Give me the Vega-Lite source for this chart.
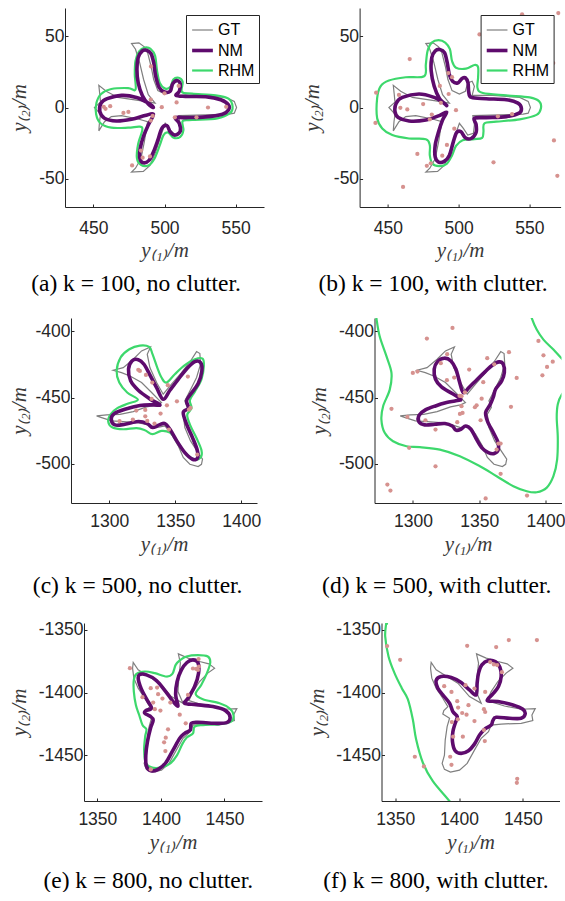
{
"$schema":"https://vega.github.io/schema/vega-lite/v6.json",
"padding":{"left":0,"top":8,"right":0,"bottom":0},
"datasets":{
"cv":[
{"g":"G1","s":"GT","i":1,"x":493.4,"y":3.1},{"g":"G1","s":"GT","i":2,"x":488.6,"y":9.0},{"g":"G1","s":"GT","i":3,"x":485.3,"y":19.7},{"g":"G1","s":"GT","i":4,"x":482.5,"y":31.5},{"g":"G1","s":"GT","i":5,"x":479.6,"y":41.0},{"g":"G1","s":"GT","i":6,"x":476.8,"y":45.0},{"g":"G1","s":"GT","i":7,"x":482.0,"y":45.5},{"g":"G1","s":"GT","i":8,"x":485.8,"y":42.7},{"g":"G1","s":"GT","i":9,"x":488.1,"y":38.6},{"g":"G1","s":"GT","i":10,"x":490.5,"y":29.2},{"g":"G1","s":"GT","i":11,"x":492.4,"y":19.7},{"g":"G1","s":"GT","i":12,"x":495.3,"y":11.9},{"g":"G1","s":"GT","i":13,"x":500.5,"y":9.5},{"g":"G1","s":"GT","i":14,"x":504.7,"y":11.4},{"g":"G1","s":"GT","i":15,"x":506.4,"y":17.3},{"g":"G1","s":"GT","i":16,"x":509.5,"y":18.5},{"g":"G1","s":"GT","i":17,"x":511.1,"y":14.9},{"g":"G1","s":"GT","i":18,"x":509.5,"y":8.5},{"g":"G1","s":"GT","i":19,"x":524.2,"y":8.5},{"g":"G1","s":"GT","i":20,"x":543.1,"y":7.1},{"g":"G1","s":"GT","i":21,"x":549.1,"y":4.3},{"g":"G1","s":"GT","i":22,"x":550.7,"y":0},{"g":"G1","s":"GT","i":23,"x":549.1,"y":-4.0},{"g":"G1","s":"GT","i":24,"x":545.5,"y":-4.7},{"g":"G1","s":"GT","i":25,"x":528.9,"y":-5.2},{"g":"G1","s":"GT","i":26,"x":510.0,"y":-5.7},{"g":"G1","s":"GT","i":27,"x":511.1,"y":-12.3},{"g":"G1","s":"GT","i":28,"x":510.4,"y":-18.2},{"g":"G1","s":"GT","i":29,"x":506.4,"y":-19.4},{"g":"G1","s":"GT","i":30,"x":503.3,"y":-14.7},{"g":"G1","s":"GT","i":31,"x":500.5,"y":-11.1},{"g":"G1","s":"GT","i":32,"x":497.6,"y":-19.4},{"g":"G1","s":"GT","i":33,"x":493.8,"y":-31.3},{"g":"G1","s":"GT","i":34,"x":489.8,"y":-40.8},{"g":"G1","s":"GT","i":35,"x":485.1,"y":-45.0},{"g":"G1","s":"GT","i":36,"x":476.8,"y":-45.5},{"g":"G1","s":"GT","i":37,"x":479.6,"y":-42.7},{"g":"G1","s":"GT","i":38,"x":483.4,"y":-36.0},{"g":"G1","s":"GT","i":39,"x":485.8,"y":-24.2},{"g":"G1","s":"GT","i":40,"x":488.1,"y":-10.0},{"g":"G1","s":"GT","i":41,"x":481.5,"y":-8.1},{"g":"G1","s":"GT","i":42,"x":469.7,"y":-5.7},{"g":"G1","s":"GT","i":43,"x":462.6,"y":-6.4},{"g":"G1","s":"GT","i":44,"x":457.8,"y":-10.0},{"g":"G1","s":"GT","i":45,"x":453.8,"y":-16.4},{"g":"G1","s":"GT","i":46,"x":454.3,"y":-10.0},{"g":"G1","s":"GT","i":47,"x":455.0,"y":-4.7},{"g":"G1","s":"GT","i":48,"x":450.7,"y":0},{"g":"G1","s":"GT","i":49,"x":455.0,"y":3.8},{"g":"G1","s":"GT","i":50,"x":454.5,"y":9.0},{"g":"G1","s":"GT","i":51,"x":453.8,"y":15.6},{"g":"G1","s":"GT","i":52,"x":459.0,"y":11.4},{"g":"G1","s":"GT","i":53,"x":467.3,"y":7.1},{"g":"G1","s":"GT","i":54,"x":483.9,"y":4.7},
{"g":"A","s":"NM","i":1,"x":492.2,"y":0},{"g":"A","s":"NM","i":2,"x":488.6,"y":2.4},{"g":"A","s":"NM","i":3,"x":484.4,"y":8.5},{"g":"A","s":"NM","i":4,"x":481.5,"y":17.3},{"g":"A","s":"NM","i":5,"x":480.6,"y":26.8},{"g":"A","s":"NM","i":6,"x":481.5,"y":35.1},{"g":"A","s":"NM","i":7,"x":484.4,"y":39.8},{"g":"A","s":"NM","i":8,"x":487.4,"y":40.3},{"g":"A","s":"NM","i":9,"x":490.5,"y":37.9},{"g":"A","s":"NM","i":10,"x":492.4,"y":31.5},{"g":"A","s":"NM","i":11,"x":493.8,"y":22.0},{"g":"A","s":"NM","i":12,"x":496.2,"y":14.2},{"g":"A","s":"NM","i":13,"x":500,"y":10.9},{"g":"A","s":"NM","i":14,"x":504.0,"y":11.4},{"g":"A","s":"NM","i":15,"x":505.7,"y":16.6},{"g":"A","s":"NM","i":16,"x":508.8,"y":19.0},{"g":"A","s":"NM","i":17,"x":511.1,"y":16.6},{"g":"A","s":"NM","i":18,"x":510.4,"y":11.4},{"g":"A","s":"NM","i":19,"x":508.1,"y":8.5},{"g":"A","s":"NM","i":20,"x":514.7,"y":7.8},{"g":"A","s":"NM","i":21,"x":528.9,"y":7.6},{"g":"A","s":"NM","i":22,"x":539.6,"y":5.5},{"g":"A","s":"NM","i":23,"x":545.0,"y":1.9},{"g":"A","s":"NM","i":24,"x":545.0,"y":-1.7},{"g":"A","s":"NM","i":25,"x":540.8,"y":-4.7},{"g":"A","s":"NM","i":26,"x":528.9,"y":-6.6},{"g":"A","s":"NM","i":27,"x":514.7,"y":-7.1},{"g":"A","s":"NM","i":28,"x":507.6,"y":-7.1},{"g":"A","s":"NM","i":29,"x":510.4,"y":-11.1},{"g":"A","s":"NM","i":30,"x":511.1,"y":-16.6},{"g":"A","s":"NM","i":31,"x":507.6,"y":-19.4},{"g":"A","s":"NM","i":32,"x":504.0,"y":-17.1},{"g":"A","s":"NM","i":33,"x":501.7,"y":-12.8},{"g":"A","s":"NM","i":34,"x":498.1,"y":-14.7},{"g":"A","s":"NM","i":35,"x":495.3,"y":-23.0},{"g":"A","s":"NM","i":36,"x":492.2,"y":-31.3},{"g":"A","s":"NM","i":37,"x":489.1,"y":-37.2},{"g":"A","s":"NM","i":38,"x":485.1,"y":-38.9},{"g":"A","s":"NM","i":39,"x":482.7,"y":-36.0},{"g":"A","s":"NM","i":40,"x":482.9,"y":-28.9},{"g":"A","s":"NM","i":41,"x":485.1,"y":-20.6},{"g":"A","s":"NM","i":42,"x":488.6,"y":-12.3},{"g":"A","s":"NM","i":43,"x":492.2,"y":-4.7},{"g":"A","s":"NM","i":44,"x":486.3,"y":-5.7},{"g":"A","s":"NM","i":45,"x":476.8,"y":-8.3},{"g":"A","s":"NM","i":46,"x":466.1,"y":-9.5},{"g":"A","s":"NM","i":47,"x":457.8,"y":-7.6},{"g":"A","s":"NM","i":48,"x":454.5,"y":-2.8},{"g":"A","s":"NM","i":49,"x":455.4,"y":3.1},{"g":"A","s":"NM","i":50,"x":459.7,"y":6.2},{"g":"A","s":"NM","i":51,"x":469.7,"y":8.5},{"g":"A","s":"NM","i":52,"x":480.3,"y":7.1},{"g":"A","s":"NM","i":53,"x":488.6,"y":3.1},
{"g":"A","s":"RHM","i":1,"x":486.3,"y":42.2},{"g":"A","s":"RHM","i":2,"x":490.5,"y":41.0},{"g":"A","s":"RHM","i":3,"x":493.4,"y":36.3},{"g":"A","s":"RHM","i":4,"x":494.8,"y":25.6},{"g":"A","s":"RHM","i":5,"x":496.7,"y":17.3},{"g":"A","s":"RHM","i":6,"x":500.5,"y":13.3},{"g":"A","s":"RHM","i":7,"x":504.3,"y":14.7},{"g":"A","s":"RHM","i":8,"x":506.2,"y":19.7},{"g":"A","s":"RHM","i":9,"x":510.0,"y":20.9},{"g":"A","s":"RHM","i":10,"x":512.8,"y":18.0},{"g":"A","s":"RHM","i":11,"x":512.3,"y":10.9},{"g":"A","s":"RHM","i":12,"x":519.4,"y":9.7},{"g":"A","s":"RHM","i":13,"x":536.0,"y":8.5},{"g":"A","s":"RHM","i":14,"x":545.0,"y":6.2},{"g":"A","s":"RHM","i":15,"x":547.9,"y":0.7},{"g":"A","s":"RHM","i":16,"x":546.0,"y":-4.0},{"g":"A","s":"RHM","i":17,"x":537.2,"y":-7.6},{"g":"A","s":"RHM","i":18,"x":519.4,"y":-8.8},{"g":"A","s":"RHM","i":19,"x":512.8,"y":-9.5},{"g":"A","s":"RHM","i":20,"x":513.3,"y":-15.9},{"g":"A","s":"RHM","i":21,"x":511.1,"y":-20.6},{"g":"A","s":"RHM","i":22,"x":506.4,"y":-21.3},{"g":"A","s":"RHM","i":23,"x":502.4,"y":-17.5},{"g":"A","s":"RHM","i":24,"x":499.3,"y":-19.4},{"g":"A","s":"RHM","i":25,"x":496.7,"y":-26.5},{"g":"A","s":"RHM","i":26,"x":492.9,"y":-36.0},{"g":"A","s":"RHM","i":27,"x":488.6,"y":-40.8},{"g":"A","s":"RHM","i":28,"x":483.4,"y":-40.3},{"g":"A","s":"RHM","i":29,"x":480.6,"y":-35.6},{"g":"A","s":"RHM","i":30,"x":481.5,"y":-25.4},{"g":"A","s":"RHM","i":31,"x":484.4,"y":-15.9},{"g":"A","s":"RHM","i":32,"x":482.7,"y":-13.5},{"g":"A","s":"RHM","i":33,"x":474.4,"y":-14.2},{"g":"A","s":"RHM","i":34,"x":462.6,"y":-14.2},{"g":"A","s":"RHM","i":35,"x":455.0,"y":-11.1},{"g":"A","s":"RHM","i":36,"x":451.9,"y":-4.7},{"g":"A","s":"RHM","i":37,"x":452.1,"y":3.1},{"g":"A","s":"RHM","i":38,"x":455.4,"y":9.5},{"g":"A","s":"RHM","i":39,"x":462.6,"y":13.0},{"g":"A","s":"RHM","i":40,"x":474.4,"y":13.7},{"g":"A","s":"RHM","i":41,"x":479.6,"y":12.6},{"g":"A","s":"RHM","i":42,"x":479.1,"y":23.2},{"g":"A","s":"RHM","i":43,"x":479.6,"y":32.7},{"g":"A","s":"RHM","i":44,"x":482.0,"y":39.3},
{"g":"B","s":"NM","i":1,"x":491.5,"y":1.4},{"g":"B","s":"NM","i":2,"x":486.3,"y":6.6},{"g":"B","s":"NM","i":3,"x":482.7,"y":14.9},{"g":"B","s":"NM","i":4,"x":480.6,"y":25.6},{"g":"B","s":"NM","i":5,"x":481.0,"y":35.1},{"g":"B","s":"NM","i":6,"x":483.4,"y":39.8},{"g":"B","s":"NM","i":7,"x":486.7,"y":40.8},{"g":"B","s":"NM","i":8,"x":490.0,"y":38.6},{"g":"B","s":"NM","i":9,"x":491.9,"y":31.5},{"g":"B","s":"NM","i":10,"x":493.4,"y":23.2},{"g":"B","s":"NM","i":11,"x":495.7,"y":18.5},{"g":"B","s":"NM","i":12,"x":499.3,"y":17.3},{"g":"B","s":"NM","i":13,"x":502.4,"y":20.4},{"g":"B","s":"NM","i":14,"x":504.7,"y":20.9},{"g":"B","s":"NM","i":15,"x":506.6,"y":17.3},{"g":"B","s":"NM","i":16,"x":507.1,"y":10.9},{"g":"B","s":"NM","i":17,"x":509.0,"y":7.1},{"g":"B","s":"NM","i":18,"x":519.4,"y":6.2},{"g":"B","s":"NM","i":19,"x":533.7,"y":5.5},{"g":"B","s":"NM","i":20,"x":541.9,"y":3.1},{"g":"B","s":"NM","i":21,"x":544.3,"y":-0.5},{"g":"B","s":"NM","i":22,"x":542.7,"y":-4.0},{"g":"B","s":"NM","i":23,"x":533.7,"y":-6.4},{"g":"B","s":"NM","i":24,"x":519.4,"y":-7.1},{"g":"B","s":"NM","i":25,"x":511.1,"y":-7.6},{"g":"B","s":"NM","i":26,"x":512.3,"y":-11.9},{"g":"B","s":"NM","i":27,"x":512.3,"y":-17.5},{"g":"B","s":"NM","i":28,"x":508.8,"y":-21.8},{"g":"B","s":"NM","i":29,"x":504.7,"y":-21.3},{"g":"B","s":"NM","i":30,"x":501.7,"y":-17.1},{"g":"B","s":"NM","i":31,"x":498.6,"y":-17.5},{"g":"B","s":"NM","i":32,"x":496.2,"y":-24.2},{"g":"B","s":"NM","i":33,"x":493.4,"y":-33.7},{"g":"B","s":"NM","i":34,"x":489.8,"y":-37.9},{"g":"B","s":"NM","i":35,"x":485.8,"y":-38.4},{"g":"B","s":"NM","i":36,"x":483.4,"y":-34.8},{"g":"B","s":"NM","i":37,"x":483.4,"y":-26.5},{"g":"B","s":"NM","i":38,"x":485.8,"y":-17.1},{"g":"B","s":"NM","i":39,"x":488.6,"y":-8.8},{"g":"B","s":"NM","i":40,"x":491.5,"y":-3.3},{"g":"B","s":"NM","i":41,"x":486.3,"y":-5.7},{"g":"B","s":"NM","i":42,"x":476.8,"y":-8.8},{"g":"B","s":"NM","i":43,"x":464.9,"y":-9.5},{"g":"B","s":"NM","i":44,"x":457.3,"y":-7.1},{"g":"B","s":"NM","i":45,"x":455.0,"y":-2.8},{"g":"B","s":"NM","i":46,"x":455.9,"y":3.1},{"g":"B","s":"NM","i":47,"x":460.2,"y":7.1},{"g":"B","s":"NM","i":48,"x":472.0,"y":9.5},{"g":"B","s":"NM","i":49,"x":482.7,"y":7.1},{"g":"B","s":"NM","i":50,"x":488.6,"y":3.8},
{"g":"B","s":"RHM","i":1,"x":485.8,"y":47.4},{"g":"B","s":"RHM","i":2,"x":490.5,"y":45.7},{"g":"B","s":"RHM","i":3,"x":493.8,"y":41.0},{"g":"B","s":"RHM","i":4,"x":495.3,"y":32.7},{"g":"B","s":"RHM","i":5,"x":498.1,"y":28.0},{"g":"B","s":"RHM","i":6,"x":505.2,"y":27.3},{"g":"B","s":"RHM","i":7,"x":511.1,"y":29.9},{"g":"B","s":"RHM","i":8,"x":513.7,"y":28.4},{"g":"B","s":"RHM","i":9,"x":513.7,"y":20.9},{"g":"B","s":"RHM","i":10,"x":513.3,"y":13.7},{"g":"B","s":"RHM","i":11,"x":517.1,"y":10.2},{"g":"B","s":"RHM","i":12,"x":533.7,"y":8.5},{"g":"B","s":"RHM","i":13,"x":550.2,"y":7.1},{"g":"B","s":"RHM","i":14,"x":556.9,"y":4.3},{"g":"B","s":"RHM","i":15,"x":558.1,"y":-0.5},{"g":"B","s":"RHM","i":16,"x":555.0,"y":-5.2},{"g":"B","s":"RHM","i":17,"x":543.1,"y":-8.3},{"g":"B","s":"RHM","i":18,"x":526.5,"y":-10.0},{"g":"B","s":"RHM","i":19,"x":518.2,"y":-11.1},{"g":"B","s":"RHM","i":20,"x":517.5,"y":-17.1},{"g":"B","s":"RHM","i":21,"x":516.6,"y":-21.3},{"g":"B","s":"RHM","i":22,"x":511.1,"y":-22.3},{"g":"B","s":"RHM","i":23,"x":502.8,"y":-23.0},{"g":"B","s":"RHM","i":24,"x":498.1,"y":-27.0},{"g":"B","s":"RHM","i":25,"x":495.3,"y":-33.7},{"g":"B","s":"RHM","i":26,"x":491.5,"y":-39.6},{"g":"B","s":"RHM","i":27,"x":486.3,"y":-41.2},{"g":"B","s":"RHM","i":28,"x":481.5,"y":-39.6},{"g":"B","s":"RHM","i":29,"x":479.6,"y":-33.7},{"g":"B","s":"RHM","i":30,"x":479.6,"y":-26.5},{"g":"B","s":"RHM","i":31,"x":476.8,"y":-22.3},{"g":"B","s":"RHM","i":32,"x":464.9,"y":-21.8},{"g":"B","s":"RHM","i":33,"x":453.1,"y":-19.4},{"g":"B","s":"RHM","i":34,"x":446.0,"y":-14.7},{"g":"B","s":"RHM","i":35,"x":442.4,"y":-7.6},{"g":"B","s":"RHM","i":36,"x":442.4,"y":6.6},{"g":"B","s":"RHM","i":37,"x":444.8,"y":14.9},{"g":"B","s":"RHM","i":38,"x":450.7,"y":19.0},{"g":"B","s":"RHM","i":39,"x":462.6,"y":21.3},{"g":"B","s":"RHM","i":40,"x":475.6,"y":22.0},{"g":"B","s":"RHM","i":41,"x":476.8,"y":30.3},{"g":"B","s":"RHM","i":42,"x":478.0,"y":39.8},{"g":"B","s":"RHM","i":43,"x":481.0,"y":45.7},
{"g":"G5","s":"GT","i":1,"x":1339.6,"y":-453.8},{"g":"G5","s":"GT","i":2,"x":1332.1,"y":-446.2},{"g":"G5","s":"GT","i":3,"x":1324.5,"y":-438.7},{"g":"G5","s":"GT","i":4,"x":1315.7,"y":-433.7},{"g":"G5","s":"GT","i":5,"x":1309.3,"y":-431.2},{"g":"G5","s":"GT","i":6,"x":1303.0,"y":-429.4},{"g":"G5","s":"GT","i":7,"x":1310.6,"y":-427.4},{"g":"G5","s":"GT","i":8,"x":1318.2,"y":-421.1},{"g":"G5","s":"GT","i":9,"x":1324.5,"y":-414.8},{"g":"G5","s":"GT","i":10,"x":1331.3,"y":-411.8},{"g":"G5","s":"GT","i":11,"x":1328.8,"y":-417.3},{"g":"G5","s":"GT","i":12,"x":1330.8,"y":-427.4},{"g":"G5","s":"GT","i":13,"x":1335.9,"y":-438.7},{"g":"G5","s":"GT","i":14,"x":1340.9,"y":-447.5},{"g":"G5","s":"GT","i":15,"x":1347.2,"y":-439.9},{"g":"G5","s":"GT","i":16,"x":1354.8,"y":-431.2},{"g":"G5","s":"GT","i":17,"x":1361.6,"y":-422.4},{"g":"G5","s":"GT","i":18,"x":1366.2,"y":-415.3},{"g":"G5","s":"GT","i":19,"x":1368.7,"y":-416.8},{"g":"G5","s":"GT","i":20,"x":1369.2,"y":-424.9},{"g":"G5","s":"GT","i":21,"x":1366.2,"y":-434.9},{"g":"G5","s":"GT","i":22,"x":1361.1,"y":-445.0},{"g":"G5","s":"GT","i":23,"x":1357.3,"y":-452.5},{"g":"G5","s":"GT","i":24,"x":1359.1,"y":-457.5},{"g":"G5","s":"GT","i":25,"x":1356.1,"y":-462.6},{"g":"G5","s":"GT","i":26,"x":1357.3,"y":-472.6},{"g":"G5","s":"GT","i":27,"x":1361.6,"y":-482.7},{"g":"G5","s":"GT","i":28,"x":1367.4,"y":-491.5},{"g":"G5","s":"GT","i":29,"x":1370.7,"y":-496.5},{"g":"G5","s":"GT","i":30,"x":1369.9,"y":-500.3},{"g":"G5","s":"GT","i":31,"x":1367.4,"y":-502.0},{"g":"G5","s":"GT","i":32,"x":1361.1,"y":-500.3},{"g":"G5","s":"GT","i":33,"x":1356.1,"y":-495.2},{"g":"G5","s":"GT","i":34,"x":1352.3,"y":-486.4},{"g":"G5","s":"GT","i":35,"x":1347.2,"y":-477.6},{"g":"G5","s":"GT","i":36,"x":1342.2,"y":-471.4},{"g":"G5","s":"GT","i":37,"x":1335.9,"y":-472.6},{"g":"G5","s":"GT","i":38,"x":1329.5,"y":-470.6},{"g":"G5","s":"GT","i":39,"x":1320.7,"y":-468.8},{"g":"G5","s":"GT","i":40,"x":1310.6,"y":-468.1},{"g":"G5","s":"GT","i":41,"x":1301.8,"y":-467.6},{"g":"G5","s":"GT","i":42,"x":1294.2,"y":-465.1},{"g":"G5","s":"GT","i":43,"x":1290.4,"y":-463.8},{"g":"G5","s":"GT","i":44,"x":1298.0,"y":-463.1},{"g":"G5","s":"GT","i":45,"x":1308.1,"y":-462.6},{"g":"G5","s":"GT","i":46,"x":1318.2,"y":-460.6},{"g":"G5","s":"GT","i":47,"x":1328.3,"y":-457.0},{"g":"G5","s":"GT","i":48,"x":1335.9,"y":-455.5},
{"g":"C","s":"NM","i":1,"x":1338.4,"y":-455.5},{"g":"C","s":"NM","i":2,"x":1330.8,"y":-451.0},{"g":"C","s":"NM","i":3,"x":1322.0,"y":-444.5},{"g":"C","s":"NM","i":4,"x":1316.2,"y":-437.4},{"g":"C","s":"NM","i":5,"x":1314.6,"y":-428.6},{"g":"C","s":"NM","i":6,"x":1317.2,"y":-422.4},{"g":"C","s":"NM","i":7,"x":1322.0,"y":-421.4},{"g":"C","s":"NM","i":8,"x":1326.3,"y":-424.9},{"g":"C","s":"NM","i":9,"x":1330.8,"y":-432.9},{"g":"C","s":"NM","i":10,"x":1335.9,"y":-442.5},{"g":"C","s":"NM","i":11,"x":1340.9,"y":-451.3},{"g":"C","s":"NM","i":12,"x":1346.0,"y":-444.5},{"g":"C","s":"NM","i":13,"x":1352.3,"y":-436.2},{"g":"C","s":"NM","i":14,"x":1359.1,"y":-427.9},{"g":"C","s":"NM","i":15,"x":1364.9,"y":-422.9},{"g":"C","s":"NM","i":16,"x":1369.2,"y":-423.6},{"g":"C","s":"NM","i":17,"x":1370.2,"y":-429.9},{"g":"C","s":"NM","i":18,"x":1367.4,"y":-439.4},{"g":"C","s":"NM","i":19,"x":1361.6,"y":-447.5},{"g":"C","s":"NM","i":20,"x":1358.6,"y":-452.5},{"g":"C","s":"NM","i":21,"x":1360.1,"y":-458.0},{"g":"C","s":"NM","i":22,"x":1356.1,"y":-461.3},{"g":"C","s":"NM","i":23,"x":1358.6,"y":-470.1},{"g":"C","s":"NM","i":24,"x":1363.1,"y":-480.2},{"g":"C","s":"NM","i":25,"x":1366.7,"y":-489.7},{"g":"C","s":"NM","i":26,"x":1366.9,"y":-495.7},{"g":"C","s":"NM","i":27,"x":1363.1,"y":-496.5},{"g":"C","s":"NM","i":28,"x":1357.3,"y":-491.5},{"g":"C","s":"NM","i":29,"x":1351.5,"y":-483.2},{"g":"C","s":"NM","i":30,"x":1346.0,"y":-473.9},{"g":"C","s":"NM","i":31,"x":1342.2,"y":-469.6},{"g":"C","s":"NM","i":32,"x":1337.9,"y":-470.6},{"g":"C","s":"NM","i":33,"x":1332.8,"y":-472.6},{"g":"C","s":"NM","i":34,"x":1328.8,"y":-469.6},{"g":"C","s":"NM","i":35,"x":1322.0,"y":-468.1},{"g":"C","s":"NM","i":36,"x":1311.9,"y":-470.1},{"g":"C","s":"NM","i":37,"x":1304.3,"y":-470.6},{"g":"C","s":"NM","i":38,"x":1301.5,"y":-466.3},{"g":"C","s":"NM","i":39,"x":1303.8,"y":-462.1},{"g":"C","s":"NM","i":40,"x":1311.9,"y":-458.8},{"g":"C","s":"NM","i":41,"x":1323.2,"y":-456.0},{"g":"C","s":"NM","i":42,"x":1333.3,"y":-455.5},
{"g":"C","s":"RHM","i":1,"x":1321.7,"y":-451.5},{"g":"C","s":"RHM","i":2,"x":1313.6,"y":-446.2},{"g":"C","s":"RHM","i":3,"x":1307.6,"y":-438.7},{"g":"C","s":"RHM","i":4,"x":1305.6,"y":-429.9},{"g":"C","s":"RHM","i":5,"x":1308.6,"y":-419.8},{"g":"C","s":"RHM","i":6,"x":1315.2,"y":-413.6},{"g":"C","s":"RHM","i":7,"x":1323.2,"y":-410.8},{"g":"C","s":"RHM","i":8,"x":1330.3,"y":-411.8},{"g":"C","s":"RHM","i":9,"x":1332.8,"y":-417.3},{"g":"C","s":"RHM","i":10,"x":1336.4,"y":-427.4},{"g":"C","s":"RHM","i":11,"x":1339.6,"y":-434.9},{"g":"C","s":"RHM","i":12,"x":1343.4,"y":-438.7},{"g":"C","s":"RHM","i":13,"x":1349.7,"y":-432.4},{"g":"C","s":"RHM","i":14,"x":1357.3,"y":-425.6},{"g":"C","s":"RHM","i":15,"x":1364.9,"y":-421.1},{"g":"C","s":"RHM","i":16,"x":1370.7,"y":-420.6},{"g":"C","s":"RHM","i":17,"x":1371.7,"y":-426.1},{"g":"C","s":"RHM","i":18,"x":1369.9,"y":-436.2},{"g":"C","s":"RHM","i":19,"x":1364.9,"y":-445.5},{"g":"C","s":"RHM","i":20,"x":1361.1,"y":-452.0},{"g":"C","s":"RHM","i":21,"x":1362.4,"y":-458.0},{"g":"C","s":"RHM","i":22,"x":1359.1,"y":-463.1},{"g":"C","s":"RHM","i":23,"x":1361.6,"y":-471.4},{"g":"C","s":"RHM","i":24,"x":1366.2,"y":-480.7},{"g":"C","s":"RHM","i":25,"x":1369.9,"y":-489.7},{"g":"C","s":"RHM","i":26,"x":1369.2,"y":-495.2},{"g":"C","s":"RHM","i":27,"x":1364.1,"y":-496.5},{"g":"C","s":"RHM","i":28,"x":1357.3,"y":-491.5},{"g":"C","s":"RHM","i":29,"x":1350.5,"y":-481.4},{"g":"C","s":"RHM","i":30,"x":1346.0,"y":-476.4},{"g":"C","s":"RHM","i":31,"x":1339.6,"y":-475.1},{"g":"C","s":"RHM","i":32,"x":1332.8,"y":-477.6},{"g":"C","s":"RHM","i":33,"x":1327.0,"y":-474.6},{"g":"C","s":"RHM","i":34,"x":1320.7,"y":-473.1},{"g":"C","s":"RHM","i":35,"x":1310.6,"y":-473.9},{"g":"C","s":"RHM","i":36,"x":1302.5,"y":-472.6},{"g":"C","s":"RHM","i":37,"x":1299.2,"y":-468.1},{"g":"C","s":"RHM","i":38,"x":1301.0,"y":-462.6},{"g":"C","s":"RHM","i":39,"x":1306.1,"y":-458.0},{"g":"C","s":"RHM","i":40,"x":1314.4,"y":-454.5},
{"g":"D","s":"NM","i":1,"x":1336.1,"y":-451.3},{"g":"D","s":"NM","i":2,"x":1329.6,"y":-447.0},{"g":"D","s":"NM","i":3,"x":1321.5,"y":-442.0},{"g":"D","s":"NM","i":4,"x":1317.0,"y":-436.2},{"g":"D","s":"NM","i":5,"x":1316.0,"y":-428.6},{"g":"D","s":"NM","i":6,"x":1318.5,"y":-422.9},{"g":"D","s":"NM","i":7,"x":1323.6,"y":-420.3},{"g":"D","s":"NM","i":8,"x":1328.6,"y":-422.4},{"g":"D","s":"NM","i":9,"x":1332.4,"y":-428.6},{"g":"D","s":"NM","i":10,"x":1334.9,"y":-437.4},{"g":"D","s":"NM","i":11,"x":1337.9,"y":-446.2},{"g":"D","s":"NM","i":12,"x":1342.2,"y":-442.5},{"g":"D","s":"NM","i":13,"x":1348.0,"y":-436.7},{"g":"D","s":"NM","i":14,"x":1354.3,"y":-430.6},{"g":"D","s":"NM","i":15,"x":1359.8,"y":-425.6},{"g":"D","s":"NM","i":16,"x":1364.9,"y":-423.1},{"g":"D","s":"NM","i":17,"x":1368.1,"y":-424.9},{"g":"D","s":"NM","i":18,"x":1368.9,"y":-431.2},{"g":"D","s":"NM","i":19,"x":1366.9,"y":-437.4},{"g":"D","s":"NM","i":20,"x":1362.3,"y":-443.7},{"g":"D","s":"NM","i":21,"x":1360.6,"y":-449.5},{"g":"D","s":"NM","i":22,"x":1358.1,"y":-455.5},{"g":"D","s":"NM","i":23,"x":1354.8,"y":-461.3},{"g":"D","s":"NM","i":24,"x":1356.3,"y":-468.1},{"g":"D","s":"NM","i":25,"x":1360.6,"y":-476.4},{"g":"D","s":"NM","i":26,"x":1363.9,"y":-483.2},{"g":"D","s":"NM","i":27,"x":1364.4,"y":-489.0},{"g":"D","s":"NM","i":28,"x":1361.3,"y":-492.2},{"g":"D","s":"NM","i":29,"x":1356.8,"y":-491.5},{"g":"D","s":"NM","i":30,"x":1351.8,"y":-487.7},{"g":"D","s":"NM","i":31,"x":1347.5,"y":-480.7},{"g":"D","s":"NM","i":32,"x":1343.7,"y":-473.9},{"g":"D","s":"NM","i":33,"x":1339.7,"y":-471.4},{"g":"D","s":"NM","i":34,"x":1336.1,"y":-473.9},{"g":"D","s":"NM","i":35,"x":1332.4,"y":-474.6},{"g":"D","s":"NM","i":36,"x":1329.6,"y":-471.4},{"g":"D","s":"NM","i":37,"x":1324.1,"y":-469.6},{"g":"D","s":"NM","i":38,"x":1316.5,"y":-470.1},{"g":"D","s":"NM","i":39,"x":1308.9,"y":-470.6},{"g":"D","s":"NM","i":40,"x":1304.4,"y":-468.1},{"g":"D","s":"NM","i":41,"x":1304.7,"y":-463.3},{"g":"D","s":"NM","i":42,"x":1309.4,"y":-459.3},{"g":"D","s":"NM","i":43,"x":1317.0,"y":-456.3},{"g":"D","s":"NM","i":44,"x":1325.3,"y":-453.8},{"g":"D","s":"NM","i":45,"x":1331.6,"y":-452.5},
{"g":"D","s":"RHM","i":1,"x":1271.2,"y":-379.6},{"g":"D","s":"RHM","i":2,"x":1308.9,"y":-367.1},{"g":"D","s":"RHM","i":3,"x":1359.3,"y":-367.1},{"g":"D","s":"RHM","i":4,"x":1387.5,"y":-382.1},{"g":"D","s":"RHM","i":5,"x":1389.5,"y":-389.9},{"g":"D","s":"RHM","i":6,"x":1393.3,"y":-398.7},{"g":"D","s":"RHM","i":7,"x":1398.4,"y":-406.3},{"g":"D","s":"RHM","i":8,"x":1405.9,"y":-413.8},{"g":"D","s":"RHM","i":9,"x":1412.7,"y":-421.1},{"g":"D","s":"RHM","i":10,"x":1422.3,"y":-429.9},{"g":"D","s":"RHM","i":11,"x":1424.8,"y":-439.9},{"g":"D","s":"RHM","i":12,"x":1416.0,"y":-445.0},{"g":"D","s":"RHM","i":13,"x":1412.2,"y":-447.7},{"g":"D","s":"RHM","i":14,"x":1409.2,"y":-455.0},{"g":"D","s":"RHM","i":15,"x":1408.4,"y":-465.1},{"g":"D","s":"RHM","i":16,"x":1409.2,"y":-480.2},{"g":"D","s":"RHM","i":17,"x":1408.7,"y":-496.7},{"g":"D","s":"RHM","i":18,"x":1405.9,"y":-509.3},{"g":"D","s":"RHM","i":19,"x":1400.9,"y":-517.9},{"g":"D","s":"RHM","i":20,"x":1393.3,"y":-521.4},{"g":"D","s":"RHM","i":21,"x":1385.8,"y":-520.6},{"g":"D","s":"RHM","i":22,"x":1375.7,"y":-516.8},{"g":"D","s":"RHM","i":23,"x":1363.1,"y":-509.3},{"g":"D","s":"RHM","i":24,"x":1350.5,"y":-501.8},{"g":"D","s":"RHM","i":25,"x":1335.4,"y":-494.2},{"g":"D","s":"RHM","i":26,"x":1320.3,"y":-489.2},{"g":"D","s":"RHM","i":27,"x":1305.2,"y":-487.4},{"g":"D","s":"RHM","i":28,"x":1295.1,"y":-486.7},{"g":"D","s":"RHM","i":29,"x":1285.0,"y":-482.9},{"g":"D","s":"RHM","i":30,"x":1278.7,"y":-476.6},{"g":"D","s":"RHM","i":31,"x":1276.2,"y":-466.6},{"g":"D","s":"RHM","i":32,"x":1277.5,"y":-456.5},{"g":"D","s":"RHM","i":33,"x":1282.5,"y":-444.0},{"g":"D","s":"RHM","i":34,"x":1283.8,"y":-431.4},{"g":"D","s":"RHM","i":35,"x":1280.0,"y":-418.8},{"g":"D","s":"RHM","i":36,"x":1274.9,"y":-403.8},{"g":"D","s":"RHM","i":37,"x":1272.4,"y":-389.9},
{"g":"G8","s":"GT","i":1,"x":1417.4,"y":-1408.5},{"g":"G8","s":"GT","i":2,"x":1413.4,"y":-1399.2},{"g":"G8","s":"GT","i":3,"x":1414.2,"y":-1387.2},{"g":"G8","s":"GT","i":4,"x":1415.3,"y":-1376.5},{"g":"G8","s":"GT","i":5,"x":1413.7,"y":-1369.1},{"g":"G8","s":"GT","i":6,"x":1421.3,"y":-1372.5},{"g":"G8","s":"GT","i":7,"x":1430.4,"y":-1375.2},{"g":"G8","s":"GT","i":8,"x":1437.7,"y":-1377.1},{"g":"G8","s":"GT","i":9,"x":1442.2,"y":-1380.5},{"g":"G8","s":"GT","i":10,"x":1436.9,"y":-1384.5},{"g":"G8","s":"GT","i":11,"x":1430.4,"y":-1391.2},{"g":"G8","s":"GT","i":12,"x":1425.2,"y":-1399.2},{"g":"G8","s":"GT","i":13,"x":1422.1,"y":-1406.4},{"g":"G8","s":"GT","i":14,"x":1435.6,"y":-1410.7},{"g":"G8","s":"GT","i":15,"x":1448.7,"y":-1413.3},{"g":"G8","s":"GT","i":16,"x":1459.7,"y":-1412.8},{"g":"G8","s":"GT","i":17,"x":1457.1,"y":-1417.9},{"g":"G8","s":"GT","i":18,"x":1457.8,"y":-1422.4},{"g":"G8","s":"GT","i":19,"x":1448.7,"y":-1424.5},{"g":"G8","s":"GT","i":20,"x":1433.0,"y":-1425.1},{"g":"G8","s":"GT","i":21,"x":1425.2,"y":-1425.9},{"g":"G8","s":"GT","i":22,"x":1423.1,"y":-1431.2},{"g":"G8","s":"GT","i":23,"x":1417.4,"y":-1436.5},{"g":"G8","s":"GT","i":24,"x":1412.1,"y":-1445.9},{"g":"G8","s":"GT","i":25,"x":1406.4,"y":-1456.5},{"g":"G8","s":"GT","i":26,"x":1400.4,"y":-1461.9},{"g":"G8","s":"GT","i":27,"x":1393.3,"y":-1463.5},{"g":"G8","s":"GT","i":28,"x":1388.6,"y":-1461.3},{"g":"G8","s":"GT","i":29,"x":1386.8,"y":-1456.5},{"g":"G8","s":"GT","i":30,"x":1388.6,"y":-1449.9},{"g":"G8","s":"GT","i":31,"x":1389.2,"y":-1437.9},{"g":"G8","s":"GT","i":32,"x":1390.7,"y":-1427.2},{"g":"G8","s":"GT","i":33,"x":1392.6,"y":-1420.5},{"g":"G8","s":"GT","i":34,"x":1387.3,"y":-1417.1},{"g":"G8","s":"GT","i":35,"x":1388.1,"y":-1414.4},{"g":"G8","s":"GT","i":36,"x":1391.3,"y":-1411.2},{"g":"G8","s":"GT","i":37,"x":1387.3,"y":-1404.5},{"g":"G8","s":"GT","i":38,"x":1382.1,"y":-1396.5},{"g":"G8","s":"GT","i":39,"x":1378.7,"y":-1388.5},{"g":"G8","s":"GT","i":40,"x":1377.7,"y":-1380.5},{"g":"G8","s":"GT","i":41,"x":1378.2,"y":-1376.0},{"g":"G8","s":"GT","i":42,"x":1382.1,"y":-1381.9},{"g":"G8","s":"GT","i":43,"x":1389.9,"y":-1386.7},{"g":"G8","s":"GT","i":44,"x":1399.1,"y":-1392.5},{"g":"G8","s":"GT","i":45,"x":1408.2,"y":-1403.2},
{"g":"E","s":"NM","i":1,"x":1413.4,"y":-1410.7},{"g":"E","s":"NM","i":2,"x":1411.6,"y":-1401.9},{"g":"E","s":"NM","i":3,"x":1412.7,"y":-1391.2},{"g":"E","s":"NM","i":4,"x":1416.1,"y":-1381.9},{"g":"E","s":"NM","i":5,"x":1420.5,"y":-1376.0},{"g":"E","s":"NM","i":6,"x":1425.2,"y":-1373.9},{"g":"E","s":"NM","i":7,"x":1429.1,"y":-1376.0},{"g":"E","s":"NM","i":8,"x":1429.6,"y":-1384.5},{"g":"E","s":"NM","i":9,"x":1426.5,"y":-1395.2},{"g":"E","s":"NM","i":10,"x":1421.3,"y":-1404.5},{"g":"E","s":"NM","i":11,"x":1418.7,"y":-1408.5},{"g":"E","s":"NM","i":12,"x":1427.8,"y":-1409.6},{"g":"E","s":"NM","i":13,"x":1440.9,"y":-1411.2},{"g":"E","s":"NM","i":14,"x":1450.8,"y":-1414.4},{"g":"E","s":"NM","i":15,"x":1454.4,"y":-1419.7},{"g":"E","s":"NM","i":16,"x":1451.8,"y":-1424.0},{"g":"E","s":"NM","i":17,"x":1442.2,"y":-1424.5},{"g":"E","s":"NM","i":18,"x":1429.1,"y":-1423.7},{"g":"E","s":"NM","i":19,"x":1423.9,"y":-1424.5},{"g":"E","s":"NM","i":20,"x":1423.1,"y":-1429.9},{"g":"E","s":"NM","i":21,"x":1418.7,"y":-1432.5},{"g":"E","s":"NM","i":22,"x":1414.8,"y":-1436.5},{"g":"E","s":"NM","i":23,"x":1409.5,"y":-1445.9},{"g":"E","s":"NM","i":24,"x":1403.8,"y":-1456.0},{"g":"E","s":"NM","i":25,"x":1397.8,"y":-1461.3},{"g":"E","s":"NM","i":26,"x":1392.0,"y":-1462.4},{"g":"E","s":"NM","i":27,"x":1388.6,"y":-1458.7},{"g":"E","s":"NM","i":28,"x":1388.1,"y":-1449.9},{"g":"E","s":"NM","i":29,"x":1389.4,"y":-1439.2},{"g":"E","s":"NM","i":30,"x":1391.8,"y":-1428.5},{"g":"E","s":"NM","i":31,"x":1393.9,"y":-1421.9},{"g":"E","s":"NM","i":32,"x":1391.3,"y":-1418.7},{"g":"E","s":"NM","i":33,"x":1387.3,"y":-1416.5},{"g":"E","s":"NM","i":34,"x":1388.1,"y":-1414.4},{"g":"E","s":"NM","i":35,"x":1392.6,"y":-1412.5},{"g":"E","s":"NM","i":36,"x":1389.9,"y":-1407.2},{"g":"E","s":"NM","i":37,"x":1385.5,"y":-1399.2},{"g":"E","s":"NM","i":38,"x":1382.4,"y":-1390.4},{"g":"E","s":"NM","i":39,"x":1382.9,"y":-1385.9},{"g":"E","s":"NM","i":40,"x":1388.6,"y":-1385.9},{"g":"E","s":"NM","i":41,"x":1396.5,"y":-1390.4},{"g":"E","s":"NM","i":42,"x":1403.8,"y":-1399.2},{"g":"E","s":"NM","i":43,"x":1409.0,"y":-1406.4},
{"g":"E","s":"RHM","i":1,"x":1414.8,"y":-1374.4},{"g":"E","s":"RHM","i":2,"x":1420.0,"y":-1371.2},{"g":"E","s":"RHM","i":3,"x":1429.1,"y":-1370.1},{"g":"E","s":"RHM","i":4,"x":1436.9,"y":-1371.2},{"g":"E","s":"RHM","i":5,"x":1438.8,"y":-1376.0},{"g":"E","s":"RHM","i":6,"x":1436.2,"y":-1384.5},{"g":"E","s":"RHM","i":7,"x":1431.7,"y":-1393.9},{"g":"E","s":"RHM","i":8,"x":1427.3,"y":-1401.1},{"g":"E","s":"RHM","i":9,"x":1433.0,"y":-1405.3},{"g":"E","s":"RHM","i":10,"x":1446.1,"y":-1408.5},{"g":"E","s":"RHM","i":11,"x":1453.9,"y":-1412.5},{"g":"E","s":"RHM","i":12,"x":1457.1,"y":-1417.9},{"g":"E","s":"RHM","i":13,"x":1455.2,"y":-1423.2},{"g":"E","s":"RHM","i":14,"x":1446.1,"y":-1425.3},{"g":"E","s":"RHM","i":15,"x":1433.0,"y":-1425.9},{"g":"E","s":"RHM","i":16,"x":1426.5,"y":-1427.2},{"g":"E","s":"RHM","i":17,"x":1425.2,"y":-1432.5},{"g":"E","s":"RHM","i":18,"x":1420.5,"y":-1435.7},{"g":"E","s":"RHM","i":19,"x":1416.8,"y":-1441.1},{"g":"E","s":"RHM","i":20,"x":1412.7,"y":-1449.9},{"g":"E","s":"RHM","i":21,"x":1407.4,"y":-1456.5},{"g":"E","s":"RHM","i":22,"x":1400.4,"y":-1459.7},{"g":"E","s":"RHM","i":23,"x":1392.6,"y":-1459.7},{"g":"E","s":"RHM","i":24,"x":1388.1,"y":-1456.0},{"g":"E","s":"RHM","i":25,"x":1386.8,"y":-1445.9},{"g":"E","s":"RHM","i":26,"x":1387.6,"y":-1435.2},{"g":"E","s":"RHM","i":27,"x":1388.6,"y":-1429.3},{"g":"E","s":"RHM","i":28,"x":1385.5,"y":-1425.9},{"g":"E","s":"RHM","i":29,"x":1382.9,"y":-1417.9},{"g":"E","s":"RHM","i":30,"x":1380.3,"y":-1409.9},{"g":"E","s":"RHM","i":31,"x":1378.7,"y":-1399.2},{"g":"E","s":"RHM","i":32,"x":1378.7,"y":-1389.9},{"g":"E","s":"RHM","i":33,"x":1380.8,"y":-1385.1},{"g":"E","s":"RHM","i":34,"x":1387.3,"y":-1383.2},{"g":"E","s":"RHM","i":35,"x":1395.2,"y":-1384.5},{"g":"E","s":"RHM","i":36,"x":1404.3,"y":-1387.2},{"g":"E","s":"RHM","i":37,"x":1409.0,"y":-1385.1},{"g":"E","s":"RHM","i":38,"x":1411.6,"y":-1377.9},
{"g":"F","s":"NM","i":1,"x":1413.4,"y":-1401.9},{"g":"F","s":"NM","i":2,"x":1414.2,"y":-1392.5},{"g":"F","s":"NM","i":3,"x":1415.3,"y":-1384.5},{"g":"F","s":"NM","i":4,"x":1417.9,"y":-1377.9},{"g":"F","s":"NM","i":5,"x":1423.1,"y":-1374.4},{"g":"F","s":"NM","i":6,"x":1428.3,"y":-1375.2},{"g":"F","s":"NM","i":7,"x":1432.0,"y":-1379.7},{"g":"F","s":"NM","i":8,"x":1433.0,"y":-1387.2},{"g":"F","s":"NM","i":9,"x":1430.9,"y":-1395.2},{"g":"F","s":"NM","i":10,"x":1426.5,"y":-1401.1},{"g":"F","s":"NM","i":11,"x":1422.1,"y":-1406.4},{"g":"F","s":"NM","i":12,"x":1430.4,"y":-1407.2},{"g":"F","s":"NM","i":13,"x":1442.2,"y":-1409.9},{"g":"F","s":"NM","i":14,"x":1450.0,"y":-1413.3},{"g":"F","s":"NM","i":15,"x":1451.8,"y":-1417.1},{"g":"F","s":"NM","i":16,"x":1448.7,"y":-1420.5},{"g":"F","s":"NM","i":17,"x":1439.6,"y":-1420.5},{"g":"F","s":"NM","i":18,"x":1429.1,"y":-1419.7},{"g":"F","s":"NM","i":19,"x":1426.5,"y":-1422.4},{"g":"F","s":"NM","i":20,"x":1425.2,"y":-1425.9},{"g":"F","s":"NM","i":21,"x":1420.0,"y":-1429.3},{"g":"F","s":"NM","i":22,"x":1416.1,"y":-1433.9},{"g":"F","s":"NM","i":23,"x":1412.1,"y":-1441.1},{"g":"F","s":"NM","i":24,"x":1407.4,"y":-1446.4},{"g":"F","s":"NM","i":25,"x":1401.7,"y":-1448.5},{"g":"F","s":"NM","i":26,"x":1397.0,"y":-1446.4},{"g":"F","s":"NM","i":27,"x":1394.9,"y":-1439.2},{"g":"F","s":"NM","i":28,"x":1395.2,"y":-1431.2},{"g":"F","s":"NM","i":29,"x":1397.0,"y":-1424.5},{"g":"F","s":"NM","i":30,"x":1398.6,"y":-1419.2},{"g":"F","s":"NM","i":31,"x":1395.2,"y":-1415.2},{"g":"F","s":"NM","i":32,"x":1392.6,"y":-1408.5},{"g":"F","s":"NM","i":33,"x":1387.3,"y":-1401.9},{"g":"F","s":"NM","i":34,"x":1383.4,"y":-1396.5},{"g":"F","s":"NM","i":35,"x":1382.1,"y":-1390.4},{"g":"F","s":"NM","i":36,"x":1386.0,"y":-1387.2},{"g":"F","s":"NM","i":37,"x":1393.9,"y":-1388.0},{"g":"F","s":"NM","i":38,"x":1401.7,"y":-1392.0},{"g":"F","s":"NM","i":39,"x":1408.2,"y":-1397.9},
{"g":"F","s":"RHM","i":1,"x":1343.7,"y":-1336.5},{"g":"F","s":"RHM","i":2,"x":1343.0,"y":-1344.5},{"g":"F","s":"RHM","i":3,"x":1342.2,"y":-1355.2},{"g":"F","s":"RHM","i":4,"x":1344.8,"y":-1371.2},{"g":"F","s":"RHM","i":5,"x":1349.5,"y":-1384.5},{"g":"F","s":"RHM","i":6,"x":1355.2,"y":-1396.5},{"g":"F","s":"RHM","i":7,"x":1359.9,"y":-1405.3},{"g":"F","s":"RHM","i":8,"x":1363.8,"y":-1421.3},{"g":"F","s":"RHM","i":9,"x":1366.4,"y":-1437.3},{"g":"F","s":"RHM","i":10,"x":1371.7,"y":-1456.0},{"g":"F","s":"RHM","i":11,"x":1379.5,"y":-1470.7},{"g":"F","s":"RHM","i":12,"x":1392.6,"y":-1486.7},{"g":"F","s":"RHM","i":13,"x":1399.1,"y":-1496.5},{"g":"F","s":"RHM","i":14,"x":1250,"y":-1550},{"g":"F","s":"RHM","i":15,"x":1343,"y":-1250}
],
"pt":[
{"g":"A","x":490.5,"y":28.9},{"g":"A","x":510.0,"y":15.2},{"g":"A","x":500.0,"y":10.0},{"g":"A","x":490.3,"y":5.5},{"g":"A","x":508.5,"y":3.6},{"g":"A","x":498.1,"y":0.2},{"g":"A","x":530.6,"y":0},{"g":"A","x":543.4,"y":0.5},{"g":"A","x":457.3,"y":0.5},{"g":"A","x":458.5,"y":-0.9},{"g":"A","x":461.8,"y":0.9},{"g":"A","x":471.1,"y":-3.8},{"g":"A","x":474.6,"y":-3.1},{"g":"A","x":491.7,"y":-5.9},{"g":"A","x":490.3,"y":-9.2},{"g":"A","x":507.3,"y":-6.9},{"g":"A","x":522.5,"y":-6.9},{"g":"A","x":483.4,"y":-30.3},{"g":"A","x":484.6,"y":-35.3},{"g":"A","x":489.8,"y":-34.4},{"g":"A","x":477.2,"y":-40.8},
{"g":"B","x":544.8,"y":65.6},{"g":"B","x":514.7,"y":51.4},{"g":"B","x":570.4,"y":66.4},{"g":"B","x":465.4,"y":34.1},{"g":"B","x":566.8,"y":31.3},{"g":"B","x":492.7,"y":24.2},{"g":"B","x":495.3,"y":21.3},{"g":"B","x":486.7,"y":15.2},{"g":"B","x":441.7,"y":10.4},{"g":"B","x":457.8,"y":8.8},{"g":"B","x":492.9,"y":9.5},{"g":"B","x":458.8,"y":-0.2},{"g":"B","x":463.7,"y":-1.4},{"g":"B","x":474.9,"y":2.4},{"g":"B","x":487.4,"y":3.3},{"g":"B","x":498.1,"y":-1.9},{"g":"B","x":481.0,"y":-5.0},{"g":"B","x":479.6,"y":-8.3},{"g":"B","x":441.2,"y":-10.9},{"g":"B","x":527.7,"y":-6.2},{"g":"B","x":537.7,"y":-4.7},{"g":"B","x":496.9,"y":-14.9},{"g":"B","x":491.7,"y":-26.3},{"g":"B","x":470.8,"y":-32.7},{"g":"B","x":488.4,"y":-33.9},{"g":"B","x":567.3,"y":-23.2},{"g":"B","x":480.3,"y":-39.3},{"g":"B","x":477.5,"y":-41.0},{"g":"B","x":524.6,"y":-38.6},{"g":"B","x":460.7,"y":-55.9},{"g":"B","x":569.7,"y":-48.1},
{"g":"C","x":1322.0,"y":-429.1},{"g":"C","x":1323.2,"y":-429.9},{"g":"C","x":1327.8,"y":-432.9},{"g":"C","x":1332.6,"y":-438.7},{"g":"C","x":1344.4,"y":-440.7},{"g":"C","x":1359.6,"y":-434.2},{"g":"C","x":1332.1,"y":-451.0},{"g":"C","x":1343.7,"y":-455.8},{"g":"C","x":1351.3,"y":-452.8},{"g":"C","x":1361.6,"y":-457.8},{"g":"C","x":1360.4,"y":-459.0},{"g":"C","x":1320.5,"y":-459.8},{"g":"C","x":1327.3,"y":-459.3},{"g":"C","x":1327.3,"y":-464.1},{"g":"C","x":1328.8,"y":-467.6},{"g":"C","x":1338.9,"y":-462.1},{"g":"C","x":1307.8,"y":-467.8},{"g":"C","x":1317.9,"y":-466.6},{"g":"C","x":1334.3,"y":-469.6},{"g":"C","x":1345.2,"y":-474.1},{"g":"C","x":1366.7,"y":-493.0},
{"g":"D","x":1329.8,"y":-397.5},{"g":"D","x":1310.5,"y":-405.5},{"g":"D","x":1394.6,"y":-407.3},{"g":"D","x":1325.8,"y":-417.3},{"g":"D","x":1372.4,"y":-415.8},{"g":"D","x":1398.4,"y":-418.1},{"g":"D","x":1405.4,"y":-422.9},{"g":"D","x":1361.3,"y":-424.9},{"g":"D","x":1356.0,"y":-420.3},{"g":"D","x":1401.1,"y":-426.9},{"g":"D","x":1321.0,"y":-424.1},{"g":"D","x":1299.9,"y":-431.4},{"g":"D","x":1303.4,"y":-430.4},{"g":"D","x":1397.6,"y":-433.2},{"g":"D","x":1342.4,"y":-428.9},{"g":"D","x":1331.1,"y":-434.9},{"g":"D","x":1325.6,"y":-436.9},{"g":"D","x":1378.2,"y":-435.2},{"g":"D","x":1353.0,"y":-438.4},{"g":"D","x":1339.2,"y":-446.0},{"g":"D","x":1336.6,"y":-449.0},{"g":"D","x":1335.1,"y":-448.7},{"g":"D","x":1351.8,"y":-450.8},{"g":"D","x":1283.8,"y":-458.5},{"g":"D","x":1373.9,"y":-457.0},{"g":"D","x":1336.6,"y":-456.5},{"g":"D","x":1348.0,"y":-455.8},{"g":"D","x":1346.7,"y":-457.3},{"g":"D","x":1335.4,"y":-462.3},{"g":"D","x":1337.4,"y":-461.6},{"g":"D","x":1295.8,"y":-464.6},{"g":"D","x":1309.4,"y":-467.1},{"g":"D","x":1333.4,"y":-468.6},{"g":"D","x":1351.0,"y":-467.1},{"g":"D","x":1317.0,"y":-474.1},{"g":"D","x":1364.4,"y":-484.7},{"g":"D","x":1366.1,"y":-484.7},{"g":"D","x":1363.1,"y":-489.2},{"g":"D","x":1297.1,"y":-487.9},{"g":"D","x":1317.0,"y":-501.8},{"g":"D","x":1366.1,"y":-507.5},{"g":"D","x":1280.7,"y":-515.6},{"g":"D","x":1283.0,"y":-520.1},{"g":"D","x":1354.8,"y":-526.1},{"g":"D","x":1386.0,"y":-523.9},
{"g":"E","x":1429.6,"y":-1373.3},{"g":"E","x":1425.2,"y":-1380.8},{"g":"E","x":1427.8,"y":-1381.1},{"g":"E","x":1429.9,"y":-1379.2},{"g":"E","x":1429.1,"y":-1381.9},{"g":"E","x":1375.6,"y":-1380.5},{"g":"E","x":1421.3,"y":-1401.9},{"g":"E","x":1392.0,"y":-1396.5},{"g":"E","x":1397.0,"y":-1396.0},{"g":"E","x":1397.8,"y":-1401.3},{"g":"E","x":1401.2,"y":-1404.8},{"g":"E","x":1385.5,"y":-1403.7},{"g":"E","x":1393.9,"y":-1408.0},{"g":"E","x":1407.4,"y":-1408.0},{"g":"E","x":1395.2,"y":-1413.3},{"g":"E","x":1399.6,"y":-1414.4},{"g":"E","x":1414.8,"y":-1417.6},{"g":"E","x":1419.5,"y":-1424.5},{"g":"E","x":1405.6,"y":-1429.3},{"g":"E","x":1403.8,"y":-1436.0},{"g":"E","x":1402.5,"y":-1439.7},{"g":"E","x":1403.5,"y":-1446.7},{"g":"E","x":1392.0,"y":-1461.3},
{"g":"F","x":1343.7,"y":-1362.9},{"g":"F","x":1353.9,"y":-1373.9},{"g":"F","x":1406.4,"y":-1362.7},{"g":"F","x":1429.1,"y":-1363.7},{"g":"F","x":1439.0,"y":-1358.1},{"g":"F","x":1461.0,"y":-1358.1},{"g":"F","x":1424.4,"y":-1375.7},{"g":"F","x":1427.3,"y":-1377.6},{"g":"F","x":1429.9,"y":-1378.1},{"g":"F","x":1433.6,"y":-1383.7},{"g":"F","x":1388.4,"y":-1394.9},{"g":"F","x":1405.1,"y":-1394.1},{"g":"F","x":1412.1,"y":-1396.8},{"g":"F","x":1394.1,"y":-1399.5},{"g":"F","x":1420.5,"y":-1399.5},{"g":"F","x":1398.6,"y":-1406.9},{"g":"F","x":1407.4,"y":-1410.1},{"g":"F","x":1399.3,"y":-1412.0},{"g":"F","x":1419.5,"y":-1413.3},{"g":"F","x":1420.5,"y":-1415.5},{"g":"F","x":1402.5,"y":-1416.3},{"g":"F","x":1405.9,"y":-1417.6},{"g":"F","x":1394.4,"y":-1423.5},{"g":"F","x":1399.1,"y":-1421.3},{"g":"F","x":1412.1,"y":-1422.7},{"g":"F","x":1419.5,"y":-1429.9},{"g":"F","x":1395.4,"y":-1435.2},{"g":"F","x":1403.0,"y":-1435.2},{"g":"F","x":1420.2,"y":-1438.7},{"g":"F","x":1393.1,"y":-1451.2},{"g":"F","x":1394.1,"y":-1457.6},{"g":"F","x":1365.4,"y":-1451.2},{"g":"F","x":1372.5,"y":-1458.9},{"g":"F","x":1445.6,"y":-1468.8},{"g":"F","x":1445.3,"y":-1472.0}
]
},
"columns":1,
"align":"none",
"spacing":23,
"resolve":{"scale":{"color":"independent","strokeWidth":"independent"},"legend":{"color":"independent","strokeWidth":"independent"}},
"concat":[
{"spacing":7,
 "resolve":{"scale":{"color":"independent","strokeWidth":"independent"},"legend":{"color":"independent","strokeWidth":"independent"}},
 "hconcat":[
 {"width":1,"height":1,"data":{"values":[]},"mark":"point"},
 {"spacing":37.6,
 "resolve":{"scale":{"color":"independent","strokeWidth":"independent"},"legend":{"color":"independent","strokeWidth":"independent"}},
 "hconcat":[
 {"width":199,"height":199,
  "title":{"text":"(a) k = 100, no clutter.","orient":"bottom","anchor":"middle","frame":"bounds","offset":11},
  "encoding":{"x":{"field":"x","type":"quantitative","scale":{"domain":[430,570],"nice":false,"zero":false},"axis":{"values":[450,500,550],"title":"y₍₁₎/m","labelPadding":15,"titlePadding":3}},
   "y":{"field":"y","type":"quantitative","scale":{"domain":[-70,70],"nice":false,"zero":false},"axis":{"values":[-50,0,50],"title":"y₍₂₎/m","titlePadding":9.7}}},
  "layer":[
   {"data":{"name":"cv"},"transform":[{"filter":"datum.g=='G1'"}],"mark":{"type":"line","interpolate":"linear-closed","clip":true},"encoding":{"order":{"field":"i","type":"quantitative"},"color":{"field":"s","type":"nominal","title":null,"legend":{"orient":"none","legendX":121,"legendY":7},"scale":{"domain":["GT","NM","RHM"],"range":["#7f7f7f","#5e0b6d","#3dd86c"]}},"strokeWidth":{"field":"s","type":"nominal","title":null,"legend":{"orient":"none","legendX":121,"legendY":7},"scale":{"type":"ordinal","domain":["GT","NM","RHM"],"range":[1.2,3.6,2.2]}}}},
   {"data":{"name":"cv"},"transform":[{"filter":"datum.g=='A'&&datum.s=='RHM'"}],"mark":{"type":"line","interpolate":"cardinal-closed","clip":true},"encoding":{"order":{"field":"i","type":"quantitative"},"color":{"field":"s","type":"nominal","title":null,"legend":{"orient":"none","legendX":121,"legendY":7},"scale":{"domain":["GT","NM","RHM"],"range":["#7f7f7f","#5e0b6d","#3dd86c"]}},"strokeWidth":{"field":"s","type":"nominal","title":null,"legend":{"orient":"none","legendX":121,"legendY":7},"scale":{"type":"ordinal","domain":["GT","NM","RHM"],"range":[1.2,3.6,2.2]}}}},
   {"data":{"name":"cv"},"transform":[{"filter":"datum.g=='A'&&datum.s=='NM'"}],"mark":{"type":"line","interpolate":"cardinal-closed","clip":true},"encoding":{"order":{"field":"i","type":"quantitative"},"color":{"field":"s","type":"nominal","title":null,"legend":{"orient":"none","legendX":121,"legendY":7},"scale":{"domain":["GT","NM","RHM"],"range":["#7f7f7f","#5e0b6d","#3dd86c"]}},"strokeWidth":{"field":"s","type":"nominal","title":null,"legend":{"orient":"none","legendX":121,"legendY":7},"scale":{"type":"ordinal","domain":["GT","NM","RHM"],"range":[1.2,3.6,2.2]}}}},
   {"data":{"name":"pt"},"transform":[{"filter":"datum.g=='A'"}],"mark":{"type":"circle","size":18,"color":"#d6928f","opacity":1,"clip":true}}
  ]},
 {"width":201,"height":199,
  "title":{"text":"(b) k = 100, with clutter.","orient":"bottom","anchor":"middle","frame":"bounds","offset":11,"dx":2},
  "encoding":{"x":{"field":"x","type":"quantitative","scale":{"domain":[430,572],"nice":false,"zero":false},"axis":{"values":[450,500,550],"title":"y₍₁₎/m","labelPadding":15,"titlePadding":3}},
   "y":{"field":"y","type":"quantitative","scale":{"domain":[-70,70],"nice":false,"zero":false},"axis":{"values":[-50,0,50],"title":"y₍₂₎/m","titlePadding":10.7}}},
  "layer":[
   {"data":{"name":"cv"},"transform":[{"filter":"datum.g=='G1'"}],"mark":{"type":"line","interpolate":"linear-closed","clip":true},"encoding":{"order":{"field":"i","type":"quantitative"},"color":{"field":"s","type":"nominal","title":null,"legend":{"orient":"none","legendX":121,"legendY":7},"scale":{"domain":["GT","NM","RHM"],"range":["#7f7f7f","#5e0b6d","#3dd86c"]}},"strokeWidth":{"field":"s","type":"nominal","title":null,"legend":{"orient":"none","legendX":121,"legendY":7},"scale":{"type":"ordinal","domain":["GT","NM","RHM"],"range":[1.2,3.6,2.2]}}}},
   {"data":{"name":"cv"},"transform":[{"filter":"datum.g=='B'&&datum.s=='RHM'"}],"mark":{"type":"line","interpolate":"cardinal-closed","clip":true},"encoding":{"order":{"field":"i","type":"quantitative"},"color":{"field":"s","type":"nominal","title":null,"legend":{"orient":"none","legendX":121,"legendY":7},"scale":{"domain":["GT","NM","RHM"],"range":["#7f7f7f","#5e0b6d","#3dd86c"]}},"strokeWidth":{"field":"s","type":"nominal","title":null,"legend":{"orient":"none","legendX":121,"legendY":7},"scale":{"type":"ordinal","domain":["GT","NM","RHM"],"range":[1.2,3.6,2.2]}}}},
   {"data":{"name":"cv"},"transform":[{"filter":"datum.g=='B'&&datum.s=='NM'"}],"mark":{"type":"line","interpolate":"cardinal-closed","clip":true},"encoding":{"order":{"field":"i","type":"quantitative"},"color":{"field":"s","type":"nominal","title":null,"legend":{"orient":"none","legendX":121,"legendY":7},"scale":{"domain":["GT","NM","RHM"],"range":["#7f7f7f","#5e0b6d","#3dd86c"]}},"strokeWidth":{"field":"s","type":"nominal","title":null,"legend":{"orient":"none","legendX":121,"legendY":7},"scale":{"type":"ordinal","domain":["GT","NM","RHM"],"range":[1.2,3.6,2.2]}}}},
   {"data":{"name":"pt"},"transform":[{"filter":"datum.g=='B'"}],"mark":{"type":"circle","size":18,"color":"#d6928f","opacity":1,"clip":true}}
  ]}
 ]}]},
{"spacing":7,
 "resolve":{"scale":{"color":"independent","strokeWidth":"independent"},"legend":{"color":"independent","strokeWidth":"independent"}},
 "hconcat":[
 {"width":1,"height":1,"data":{"values":[]},"mark":"point"},
 {"spacing":46.5,
 "resolve":{"scale":{"color":"independent","strokeWidth":"independent"},"legend":{"color":"independent","strokeWidth":"independent"}},
 "hconcat":[
 {"width":186,"height":185,
  "title":{"text":"(c) k = 500, no clutter.","orient":"bottom","anchor":"middle","frame":"bounds","offset":19.5,"dx":3},
  "encoding":{"x":{"field":"x","type":"quantitative","scale":{"domain":[1271,1412],"nice":false,"zero":false},"axis":{"values":[1300,1350,1400],"title":"y₍₁₎/m","labelPadding":12,"titlePadding":3.5}},
   "y":{"field":"y","type":"quantitative","scale":{"domain":[-529.5,-390],"nice":false,"zero":false},"axis":{"values":[-500,-450,-400],"title":"y₍₂₎/m","titlePadding":5.3}}},
  "layer":[
   {"data":{"name":"cv"},"transform":[{"filter":"datum.g=='G5'"}],"mark":{"type":"line","interpolate":"linear-closed","clip":true},"encoding":{"order":{"field":"i","type":"quantitative"},"color":{"field":"s","type":"nominal","legend":null,"scale":{"domain":["GT","NM","RHM"],"range":["#7f7f7f","#5e0b6d","#3dd86c"]}},"strokeWidth":{"field":"s","type":"nominal","legend":null,"scale":{"type":"ordinal","domain":["GT","NM","RHM"],"range":[1.2,3.6,2.2]}}}},
   {"data":{"name":"cv"},"transform":[{"filter":"datum.g=='C'&&datum.s=='RHM'"}],"mark":{"type":"line","interpolate":"cardinal-closed","clip":true},"encoding":{"order":{"field":"i","type":"quantitative"},"color":{"field":"s","type":"nominal","legend":null,"scale":{"domain":["GT","NM","RHM"],"range":["#7f7f7f","#5e0b6d","#3dd86c"]}},"strokeWidth":{"field":"s","type":"nominal","legend":null,"scale":{"type":"ordinal","domain":["GT","NM","RHM"],"range":[1.2,3.6,2.2]}}}},
   {"data":{"name":"cv"},"transform":[{"filter":"datum.g=='C'&&datum.s=='NM'"}],"mark":{"type":"line","interpolate":"cardinal-closed","clip":true},"encoding":{"order":{"field":"i","type":"quantitative"},"color":{"field":"s","type":"nominal","legend":null,"scale":{"domain":["GT","NM","RHM"],"range":["#7f7f7f","#5e0b6d","#3dd86c"]}},"strokeWidth":{"field":"s","type":"nominal","legend":null,"scale":{"type":"ordinal","domain":["GT","NM","RHM"],"range":[1.2,3.6,2.2]}}}},
   {"data":{"name":"pt"},"transform":[{"filter":"datum.g=='C'"}],"mark":{"type":"circle","size":18,"color":"#d6928f","opacity":1,"clip":true}}
  ]},
 {"width":187,"height":185,
  "title":{"text":"(d) k = 500, with clutter.","orient":"bottom","anchor":"middle","frame":"bounds","offset":19.5},
  "encoding":{"x":{"field":"x","type":"quantitative","scale":{"domain":[1271,1412],"nice":false,"zero":false},"axis":{"values":[1300,1350,1400],"title":"y₍₁₎/m","labelPadding":12,"titlePadding":3.5}},
   "y":{"field":"y","type":"quantitative","scale":{"domain":[-529.5,-390],"nice":false,"zero":false},"axis":{"values":[-500,-450,-400],"title":"y₍₂₎/m","titlePadding":9}}},
  "layer":[
   {"data":{"name":"cv"},"transform":[{"filter":"datum.g=='G5'"}],"mark":{"type":"line","interpolate":"linear-closed","clip":true},"encoding":{"order":{"field":"i","type":"quantitative"},"color":{"field":"s","type":"nominal","legend":null,"scale":{"domain":["GT","NM","RHM"],"range":["#7f7f7f","#5e0b6d","#3dd86c"]}},"strokeWidth":{"field":"s","type":"nominal","legend":null,"scale":{"type":"ordinal","domain":["GT","NM","RHM"],"range":[1.2,3.6,2.2]}}}},
   {"data":{"name":"cv"},"transform":[{"filter":"datum.g=='D'&&datum.s=='RHM'"}],"mark":{"type":"line","interpolate":"cardinal-closed","clip":true},"encoding":{"order":{"field":"i","type":"quantitative"},"color":{"field":"s","type":"nominal","legend":null,"scale":{"domain":["GT","NM","RHM"],"range":["#7f7f7f","#5e0b6d","#3dd86c"]}},"strokeWidth":{"field":"s","type":"nominal","legend":null,"scale":{"type":"ordinal","domain":["GT","NM","RHM"],"range":[1.2,3.6,2.2]}}}},
   {"data":{"name":"cv"},"transform":[{"filter":"datum.g=='D'&&datum.s=='NM'"}],"mark":{"type":"line","interpolate":"cardinal-closed","clip":true},"encoding":{"order":{"field":"i","type":"quantitative"},"color":{"field":"s","type":"nominal","legend":null,"scale":{"domain":["GT","NM","RHM"],"range":["#7f7f7f","#5e0b6d","#3dd86c"]}},"strokeWidth":{"field":"s","type":"nominal","legend":null,"scale":{"type":"ordinal","domain":["GT","NM","RHM"],"range":[1.2,3.6,2.2]}}}},
   {"data":{"name":"pt"},"transform":[{"filter":"datum.g=='D'"}],"mark":{"type":"circle","size":18,"color":"#d6928f","opacity":1,"clip":true}}
  ]}
 ]}]},
{"spacing":7,
 "resolve":{"scale":{"color":"independent","strokeWidth":"independent"},"legend":{"color":"independent","strokeWidth":"independent"}},
 "hconcat":[
 {"width":1,"height":1,"data":{"values":[]},"mark":"point"},
 {"spacing":43.5,
 "resolve":{"scale":{"color":"independent","strokeWidth":"independent"},"legend":{"color":"independent","strokeWidth":"independent"}},
 "hconcat":[
 {"width":178,"height":178,
  "title":{"text":"(e) k = 800, no clutter.","orient":"bottom","anchor":"middle","frame":"bounds","offset":16,"dx":13},
  "encoding":{"x":{"field":"x","type":"quantitative","scale":{"domain":[1339.5,1479.5],"nice":false,"zero":false},"axis":{"values":[1350,1400,1450],"title":"y₍₁₎/m","labelPadding":12.5,"titlePadding":3.5}},
   "y":{"field":"y","type":"quantitative","scale":{"domain":[-1486.5,-1344.5],"nice":false,"zero":false},"axis":{"values":[-1450,-1400,-1350],"title":"y₍₂₎/m","titlePadding":8.8}}},
  "layer":[
   {"data":{"name":"cv"},"transform":[{"filter":"datum.g=='G8'"}],"mark":{"type":"line","interpolate":"linear-closed","clip":true},"encoding":{"order":{"field":"i","type":"quantitative"},"color":{"field":"s","type":"nominal","legend":null,"scale":{"domain":["GT","NM","RHM"],"range":["#7f7f7f","#5e0b6d","#3dd86c"]}},"strokeWidth":{"field":"s","type":"nominal","legend":null,"scale":{"type":"ordinal","domain":["GT","NM","RHM"],"range":[1.2,3.6,2.2]}}}},
   {"data":{"name":"cv"},"transform":[{"filter":"datum.g=='E'&&datum.s=='RHM'"}],"mark":{"type":"line","interpolate":"cardinal-closed","clip":true},"encoding":{"order":{"field":"i","type":"quantitative"},"color":{"field":"s","type":"nominal","legend":null,"scale":{"domain":["GT","NM","RHM"],"range":["#7f7f7f","#5e0b6d","#3dd86c"]}},"strokeWidth":{"field":"s","type":"nominal","legend":null,"scale":{"type":"ordinal","domain":["GT","NM","RHM"],"range":[1.2,3.6,2.2]}}}},
   {"data":{"name":"cv"},"transform":[{"filter":"datum.g=='E'&&datum.s=='NM'"}],"mark":{"type":"line","interpolate":"cardinal-closed","clip":true},"encoding":{"order":{"field":"i","type":"quantitative"},"color":{"field":"s","type":"nominal","legend":null,"scale":{"domain":["GT","NM","RHM"],"range":["#7f7f7f","#5e0b6d","#3dd86c"]}},"strokeWidth":{"field":"s","type":"nominal","legend":null,"scale":{"type":"ordinal","domain":["GT","NM","RHM"],"range":[1.2,3.6,2.2]}}}},
   {"data":{"name":"pt"},"transform":[{"filter":"datum.g=='E'"}],"mark":{"type":"circle","size":18,"color":"#d6928f","opacity":1,"clip":true}}
  ]},
 {"width":178,"height":178,
  "title":{"text":"(f) k = 800, with clutter.","orient":"bottom","anchor":"middle","frame":"bounds","offset":16,"dx":3},
  "encoding":{"x":{"field":"x","type":"quantitative","scale":{"domain":[1339.3,1478.7],"nice":false,"zero":false},"axis":{"values":[1350,1400,1450],"title":"y₍₁₎/m","labelPadding":12.5,"titlePadding":3.5}},
   "y":{"field":"y","type":"quantitative","scale":{"domain":[-1486.5,-1344.5],"nice":false,"zero":false},"axis":{"values":[-1450,-1400,-1350],"title":"y₍₂₎/m","titlePadding":8.3}}},
  "layer":[
   {"data":{"name":"cv"},"transform":[{"filter":"datum.g=='G8'"}],"mark":{"type":"line","interpolate":"linear-closed","clip":true},"encoding":{"order":{"field":"i","type":"quantitative"},"color":{"field":"s","type":"nominal","legend":null,"scale":{"domain":["GT","NM","RHM"],"range":["#7f7f7f","#5e0b6d","#3dd86c"]}},"strokeWidth":{"field":"s","type":"nominal","legend":null,"scale":{"type":"ordinal","domain":["GT","NM","RHM"],"range":[1.2,3.6,2.2]}}}},
   {"data":{"name":"cv"},"transform":[{"filter":"datum.g=='F'&&datum.s=='RHM'"}],"mark":{"type":"line","interpolate":"cardinal-closed","clip":true},"encoding":{"order":{"field":"i","type":"quantitative"},"color":{"field":"s","type":"nominal","legend":null,"scale":{"domain":["GT","NM","RHM"],"range":["#7f7f7f","#5e0b6d","#3dd86c"]}},"strokeWidth":{"field":"s","type":"nominal","legend":null,"scale":{"type":"ordinal","domain":["GT","NM","RHM"],"range":[1.2,3.6,2.2]}}}},
   {"data":{"name":"cv"},"transform":[{"filter":"datum.g=='F'&&datum.s=='NM'"}],"mark":{"type":"line","interpolate":"cardinal-closed","clip":true},"encoding":{"order":{"field":"i","type":"quantitative"},"color":{"field":"s","type":"nominal","legend":null,"scale":{"domain":["GT","NM","RHM"],"range":["#7f7f7f","#5e0b6d","#3dd86c"]}},"strokeWidth":{"field":"s","type":"nominal","legend":null,"scale":{"type":"ordinal","domain":["GT","NM","RHM"],"range":[1.2,3.6,2.2]}}}},
   {"data":{"name":"pt"},"transform":[{"filter":"datum.g=='F'"}],"mark":{"type":"circle","size":18,"color":"#d6928f","opacity":1,"clip":true}}
  ]}
 ]}]}
],
"config":{
 "view":{"stroke":null},
 "axis":{"grid":false,"domainColor":"#262626","tickColor":"#262626","tickSize":-3,"labelFont":"Liberation Sans","labelFontSize":17.5,"labelColor":"#262626","labelFlush":false,"labelOverlap":false,"labelPadding":4,"titleFont":"Liberation Serif","titleFontSize":21,"titleFontStyle":"italic","titleFontWeight":"normal","titleColor":"#3a3a3a","labelExpr":"datum.value < 0 ? '-' + format(-datum.value, 'd') : format(datum.value, 'd')"},
 "legend":{"padding":4,"strokeColor":"#262626","fillColor":"#ffffff","labelFont":"Liberation Sans","labelFontSize":16,"labelColor":"#000000","symbolSize":430,"symbolType":"stroke","rowPadding":0,"labelOffset":3,"cornerRadius":0},
 "title":{"font":"Liberation Serif","fontSize":23.5,"fontWeight":"normal","color":"#000000"}
}
}
